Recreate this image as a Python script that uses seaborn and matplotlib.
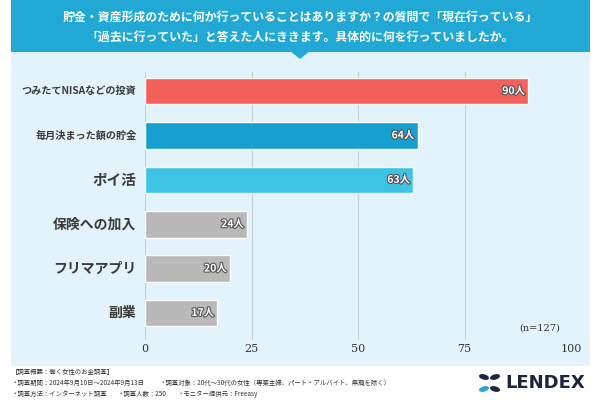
import matplotlib
matplotlib.use("Agg")
import matplotlib.pyplot as plt
import matplotlib.patheffects as pe
from matplotlib.patches import Rectangle, Polygon, Ellipse
import seaborn as sns
import pandas as pd
import numpy as np

categories = ["つみたてNISAなどの投資", "毎月決まった額の貯金", "ポイ活", "保険への加入", "フリマアプリ", "副業"]
values = [90, 64, 63, 24, 20, 17]
bar_colors = ["#f4605a", "#179fd0", "#3ec3e4", "#b9b9b9", "#b9b9b9", "#b9b9b9"]
label_sizes = [7.3, 7.3, 10.5, 10, 10, 10]
xticks = [0, 25, 50, 75, 100]
title_lines = ["貯金・資産形成のために何か行っていることはありますか？の質問で「現在行っている」",
               "「過去に行っていた」と答えた人にききます。具体的に何を行っていましたか。"]
n_note = "(n=127)"
footer_lines = [
    [("【調査概要：働く女性のお金調査】", 12)],
    [("・調査期間：2024年9月10日～2024年9月13日", 12), ("・調査対象：20代～30代の女性（専業主婦、パート・アルバイト、無職を除く）", 160)],
    [("・調査方法：インターネット調査", 12), ("・調査人数：250", 118), ("・モニター提供元：Freeasy", 178)],
]

sns.set_theme(style="white")
plt.rcParams['font.family'] = ['Noto Sans CJK JP', 'DejaVu Sans']

W, H = 600, 400
fig = plt.figure(figsize=(6, 4), dpi=100)
fig.patch.set_facecolor("white")

def fx(px):
    return px / W

def fy(py):
    return 1 - py / H

# panel background
fig.patches.append(Rectangle((fx(11), fy(366)), fx(590) - fx(11), fy(52) - fy(366),
                             transform=fig.transFigure, facecolor="#e2f3fb", edgecolor="none", zorder=-2))
# title band
fig.patches.append(Rectangle((fx(11), fy(52)), fx(590) - fx(11), 52 / H,
                             transform=fig.transFigure, facecolor="#22a8d5", edgecolor="none", zorder=-1))
fig.patches.append(Polygon([(fx(290), fy(51)), (fx(310), fy(51)), (fx(300), fy(59))], closed=True,
                           transform=fig.transFigure, facecolor="#22a8d5", edgecolor="none", zorder=-1))
fig.text(0.5, fy(17), title_lines[0], ha="center", va="center", color="white",
         fontsize=8.6, fontweight="bold", zorder=3)
fig.text(0.5, fy(37), title_lines[1], ha="center", va="center", color="white",
         fontsize=8.6, fontweight="bold", zorder=3)

# axes
ax = fig.add_axes([fx(145), fy(340), fx(571) - fx(145), (340 - 72) / H])
ax.set_zorder(2)
ax.set_facecolor("none")
df = pd.DataFrame({"cat": categories, "val": values})
sns.barplot(data=df, y="cat", x="val", hue="cat", palette=bar_colors, legend=False,
            orient="h", width=0.6, ax=ax, zorder=3, saturation=1)
ax.set_xlim(0, 100)
ax.set_ylim(5.61, -0.43)
ax.set_xticks(xticks)
ax.set_xticklabels([str(t) for t in xticks], fontfamily="DejaVu Serif", fontsize=8, color="#333333")
ax.tick_params(axis="x", length=0, pad=3)
ax.set_yticks(range(len(categories)))
ax.set_yticklabels([])
ax.tick_params(axis="y", length=0)
for i, (c, s) in enumerate(zip(categories, label_sizes)):
    ax.text(-2, i, c, ha="right", va="center", fontsize=s, fontweight="bold", color="#3a3a3a")
for t in xticks:
    ax.axvline(t, color="#c5cfd6", lw=0.8, zorder=1)
for sp in ax.spines.values():
    sp.set_visible(False)
ax.set_xlabel("")
ax.set_ylabel("")
for i, v in enumerate(values):
    ax.text(v - 0.8, i, f"{v}人", ha="right", va="center", fontsize=7.5, fontweight="bold",
            color="white", zorder=5,
            path_effects=[pe.withStroke(linewidth=1.6, foreground="#555555")])
ax.text(97.5, 5.33, n_note, ha="right", va="center", fontsize=7, color="#333333",
        fontfamily="DejaVu Serif", zorder=5)

# footer
for row, line in zip([372, 383, 394], footer_lines):
    for txt, x in line:
        fig.text(fx(x), fy(row), txt, ha="left", va="center", fontsize=4.6, color="#333333")

# logo
fig.text(fx(505), fy(383), "LENDEX", ha="left", va="center", fontsize=13, fontweight="bold",
         color="#1c2540", fontfamily="DejaVu Sans")
for (cx, cy, ang, col) in [(484, 377, -35, "#1c2540"), (495, 377, 35, "#1c2540"),
                           (484, 389, 35, "#2aa6c8"), (495, 389, -35, "#1c2540")]:
    fig.patches.append(Ellipse((fx(cx), fy(cy)), 11 / W, 5 / H, angle=ang,
                               transform=fig.transFigure, facecolor=col, edgecolor="none", zorder=3))

fig.savefig("out.png", dpi=100)
